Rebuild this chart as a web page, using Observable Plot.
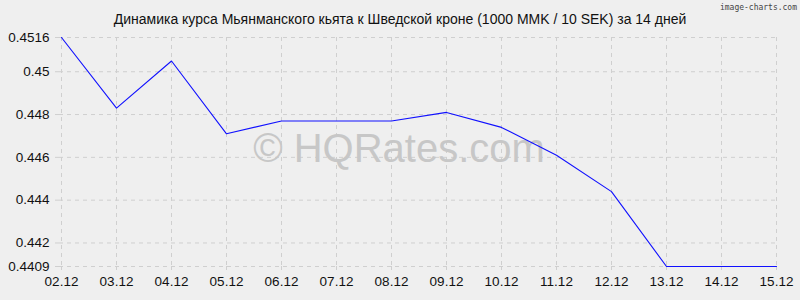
<!DOCTYPE html>
<html>
<head>
<meta charset="utf-8">
<script src="https://cdn.jsdelivr.net/npm/d3@7"></script>
<script src="https://cdn.jsdelivr.net/npm/@observablehq/plot@0.6"></script>
<style>
  html, body { margin: 0; padding: 0; background: #efefef; }
  #wrap { position: relative; width: 800px; height: 300px; background: #efefef; font-family: "Liberation Sans", Arial, sans-serif; }
  #title { position: absolute; left: 0; top: 0; width: 800px; padding-top: 10px; line-height: 18px; text-align: center; font-size: 14px; color: #111; }
  #brand { position: absolute; right: 3px; top: 3px; font-family: "DejaVu Sans Mono", monospace; font-size: 8px; color: #444; }
  #chart { padding-top: 28px; }
  svg { display: block; }
</style>
</head>
<body>
<div id="wrap">
  <div id="chart"></div>
  <div id="title">Динамика курса Мьянманского кьята к Шведской кроне (1000 MMK / 10 SEK) за 14 дней</div>
  <div id="brand">image-charts.com</div>
</div>
<script>
const dates = ["02.12","03.12","04.12","05.12","06.12","07.12","08.12","09.12","10.12","11.12","12.12","13.12","14.12","15.12"];
const rates = [0.4516, 0.4483, 0.4505, 0.4471, 0.4477, 0.4477, 0.4477, 0.4481, 0.4474, 0.4461, 0.4444, 0.4409, 0.4409, 0.4409];
const yTicks = [0.4409, 0.442, 0.444, 0.446, 0.448, 0.45, 0.4516];
const watermark = "© HQRates.com";

const data = dates.map((d, i) => ({date: d, rate: rates[i]}));
const gridColor = "#cfcfcf";

const chart = Plot.plot({
  width: 800,
  height: 272,
  marginTop: 9,
  marginBottom: 34,
  marginLeft: 59,
  marginRight: 22,
  style: {background: "#efefef", fontFamily: "'Liberation Sans', Arial, sans-serif", fontSize: "13.5px", color: "#111", overflow: "visible"},
  x: {type: "point", domain: dates, padding: 0},
  y: {domain: [yTicks[0], yTicks[yTicks.length - 1]]},
  marks: [
    Plot.ruleX(dates, {stroke: gridColor, strokeDasharray: "4,4", strokeWidth: 1}),
    Plot.ruleY(yTicks, {stroke: gridColor, strokeDasharray: "4,4", strokeWidth: 1}),
    Plot.axisY({ticks: yTicks, tickFormat: d => String(d), tickSize: 5, tickPadding: 5, stroke: gridColor, strokeDasharray: "4,4", label: null, fill: "#111"}),
    Plot.axisX({ticks: dates, tickSize: 4, tickPadding: 6, stroke: gridColor, label: null, fill: "#111"}),
    Plot.text([watermark], {frameAnchor: "middle", dx: -20, dy: -3, fontSize: 40, fill: "#c7c7c7", text: d => d}),
    Plot.line(data, {x: "date", y: "rate", stroke: "#1010ff", strokeWidth: 1.1})
  ]
});
document.getElementById("chart").appendChild(chart);
</script>
</body>
</html>
